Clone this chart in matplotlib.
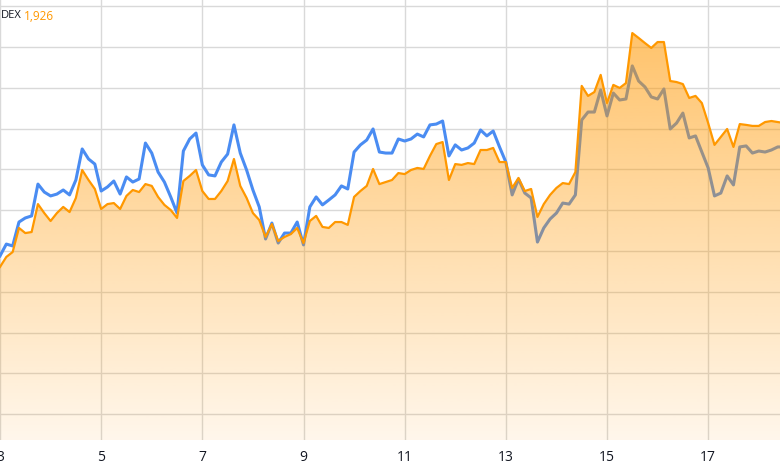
import numpy as np
import matplotlib
matplotlib.use("Agg")
import matplotlib.pyplot as plt
from matplotlib.colors import to_rgb

START_DAY = 3
POINTS_PER_DAY = 8  # 3-hour bars
TICK_DAYS = [3, 5, 7, 9, 11, 13, 15, 17]

INDEX_NAME = "DEX"
INDEX_LAST = "1,926"

index_vals = [
    1852.2, 1857.1, 1859.5, 1871.3, 1868.8, 1869.3, 1883.0, 1878.6, 1874.7, 1878.6,
    1881.6, 1879.1, 1886.0, 1899.7, 1894.8, 1890.4, 1880.6, 1883.0, 1883.5, 1880.6,
    1887.0, 1889.9, 1888.9, 1892.8, 1891.9, 1886.5, 1882.6, 1880.1, 1876.2, 1894.3,
    1896.8, 1899.7, 1889.4, 1885.5, 1885.5, 1889.4, 1894.3, 1905.1, 1891.9, 1886.0,
    1878.6, 1875.2, 1866.9, 1873.2, 1864.9, 1866.9, 1868.3, 1871.3, 1863.9, 1874.7,
    1877.2, 1871.8, 1871.3, 1874.2, 1874.2, 1872.8, 1886.5, 1889.4, 1891.9, 1900.2,
    1892.8, 1893.8, 1894.8, 1898.2, 1897.7, 1899.7, 1900.7, 1900.2, 1906.6, 1912.4,
    1913.4, 1894.8, 1902.6, 1902.2, 1903.1, 1902.6, 1909.5, 1909.5, 1910.5, 1903.6,
    1903.6, 1890.9, 1895.8, 1889.4, 1890.4, 1876.7, 1883.0, 1887.5, 1890.9, 1893.3,
    1892.8, 1898.7, 1940.9, 1936.0, 1937.9, 1946.3, 1932.5, 1941.4, 1939.9, 1942.3,
    1966.8, 1964.4, 1961.9, 1959.5, 1962.4, 1962.4, 1943.3, 1942.8, 1941.8, 1935.0,
    1936.0, 1932.5, 1922.7, 1912.0, 1915.9, 1919.8, 1911.0, 1922.2, 1921.8, 1921.3,
    1921.3, 1923.2, 1923.7, 1923.2, 1922.7,
]

compare_vals = [
    1857.6, 1863.4, 1862.5, 1874.2, 1876.2, 1877.2, 1892.8, 1888.9, 1887.0, 1887.9,
    1889.9, 1887.5, 1894.8, 1910.0, 1905.1, 1902.6, 1889.4, 1891.4, 1894.3, 1887.9,
    1896.3, 1893.8, 1895.3, 1912.9, 1908.0, 1898.7, 1893.8, 1886.5, 1878.6, 1909.0,
    1914.9, 1917.8, 1902.2, 1897.3, 1896.8, 1903.6, 1907.5, 1921.8, 1908.0, 1899.7,
    1889.9, 1881.6, 1865.9, 1873.7, 1863.9, 1868.8, 1868.8, 1874.2, 1863.0, 1881.6,
    1886.5, 1882.6, 1885.0, 1887.5, 1891.9, 1890.4, 1908.5, 1912.0, 1914.4, 1919.8,
    1908.5, 1908.0, 1908.0, 1914.9, 1913.9, 1914.9, 1917.3, 1915.9, 1921.8, 1922.2,
    1923.7, 1906.6, 1912.0, 1909.5, 1910.5, 1912.9, 1919.3, 1916.4, 1918.8, 1911.0,
    1903.6, 1887.5, 1895.3, 1888.4, 1886.0, 1864.4, 1871.3, 1875.7, 1878.6, 1883.5,
    1883.0, 1887.5, 1924.2, 1928.1, 1928.1, 1938.9, 1926.2, 1937.4, 1934.0, 1934.5,
    1950.7, 1943.3, 1940.4, 1935.5, 1934.5, 1939.4, 1919.8, 1922.7, 1927.6, 1915.4,
    1916.4, 1908.5, 1900.7, 1887.0, 1888.4, 1896.8, 1892.4, 1911.0, 1911.5, 1908.0,
    1909.0, 1908.5, 1909.5, 1911.0, 1911.0,
]

ORANGE = "#ff9800"
BLUE = "#4a8cf2"
GRID = "#d9d9d9"
TEXT = "#131722"

plt.rcParams["font.family"] = ["Open Sans", "DejaVu Sans"]


def main():
    days = START_DAY + np.arange(len(index_vals)) / POINTS_PER_DAY
    x0, x1 = 3.0, 18.42
    y0, y1 = 1767.4, 1983.0

    fig = plt.figure(figsize=(7.8, 4.7), dpi=100)
    ax = fig.add_axes([0, 30 / 470, 1, 440 / 470])

    ax.plot(days, compare_vals, color=BLUE, lw=2.2, zorder=2, solid_joinstyle="round")

    # orange area: vertical gradient clipped to the area under the line
    fill = ax.fill_between(days, index_vals, y0, facecolor="none", edgecolor="none")
    grad = np.zeros((256, 1, 4))
    grad[..., :3] = to_rgb(ORANGE)
    grad[..., 3] = np.linspace(0.08, 0.62, 256)[:, None]
    im = ax.imshow(grad, extent=[x0, x1, y0, y1], origin="lower",
                   aspect="auto", zorder=3, interpolation="bilinear")
    im.set_clip_path(fill.get_paths()[0], transform=ax.transData)

    ax.plot(days, index_vals, color=ORANGE, lw=1.6, zorder=4, solid_joinstyle="round")

    ax.set_xlim(x0, x1)
    ax.set_ylim(y0, y1)
    ax.set_xticks(TICK_DAYS)
    ax.set_xticklabels([str(d) for d in TICK_DAYS])
    ax.set_yticks(np.arange(1780, 1981, 20))
    ax.grid(True, color=GRID, lw=1.0, zorder=0)
    ax.set_axisbelow(True)
    ax.tick_params(axis="x", length=0, pad=7, labelsize=10, labelcolor=TEXT)
    ax.tick_params(axis="y", left=False, labelleft=False)
    for s in ax.spines.values():
        s.set_visible(False)

    fig.text(1 / 780, 1 - 16 / 470, INDEX_NAME, color=TEXT, fontsize=8,
             va="center", ha="left")
    fig.text(24 / 780, 1 - 16 / 470, INDEX_LAST, color=ORANGE, fontsize=8.5, va="center")

    fig.savefig("out.png", dpi=100)
    plt.close(fig)


if __name__ == "__main__":
    main()
